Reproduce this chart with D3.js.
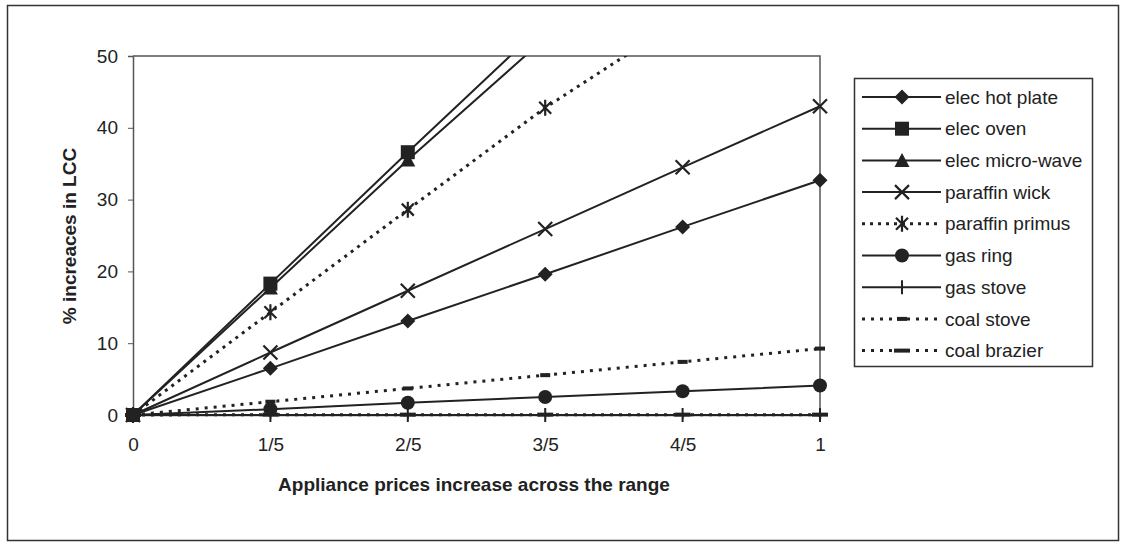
<!DOCTYPE html>
<html>
<head>
<meta charset="utf-8">
<script src="https://cdn.jsdelivr.net/npm/d3@7"></script>
<style>
  body { margin: 0; background: #fff; }
  text { font-family: "Liberation Sans", Arial, sans-serif; fill: #222; }
</style>
</head>
<body>
<div id="chart"></div>
<script>
// Categories on the x axis
const categories = ["0", "1/5", "2/5", "3/5", "4/5", "1"];
const yTicks = [0, 10, 20, 30, 40, 50];

// Series values (% increase in LCC)
const elecHotPlate = [0, 6.5, 13.1, 19.6, 26.2, 32.7];
const elecOven = [0, 18.3, 36.6, 54.6, 72.6, 90.6];
const elecMicroWave = [0, 17.7, 35.5, 52.5, 69.5, 86.5];
const paraffinWick = [0, 8.7, 17.3, 25.9, 34.5, 43.0];
const paraffinPrimus = [0, 14.3, 28.6, 42.8, 55.2, 67.6];
const gasRing = [0, 0.8, 1.7, 2.5, 3.3, 4.1];
const gasStove = [0, 0, 0, 0, 0, 0];
const coalStove = [0, 1.85, 3.7, 5.55, 7.4, 9.25];
const coalBrazier = [0, 0.05, 0.05, 0.05, 0.05, 0.05];

const series = [
  { name: "elec hot plate", values: elecHotPlate, marker: "diamond", dash: null },
  { name: "elec oven", values: elecOven, marker: "square", dash: null },
  { name: "elec micro-wave", values: elecMicroWave, marker: "triangle", dash: null },
  { name: "paraffin wick", values: paraffinWick, marker: "x", dash: null },
  { name: "paraffin primus", values: paraffinPrimus, marker: "asterisk", dash: "3,5" },
  { name: "gas ring", values: gasRing, marker: "circle", dash: null },
  { name: "gas stove", values: gasStove, marker: "plus", dash: null },
  { name: "coal stove", values: coalStove, marker: "shortdash", dash: "3,6" },
  { name: "coal brazier", values: coalBrazier, marker: "longdash", dash: "3,6" }
];

const W = 1125, H = 542;
const plot = { left: 133, right: 820, top: 56, bottom: 415 };
const ink = "#222";

const svg = d3.select("#chart").append("svg")
  .attr("width", W)
  .attr("height", H);

// outer frame
svg.append("rect")
  .attr("x", 7.5).attr("y", 5.5)
  .attr("width", 1111).attr("height", 535)
  .attr("fill", "none")
  .attr("stroke", "#333")
  .attr("stroke-width", 1.5);

const x = d3.scalePoint()
  .domain(categories)
  .range([plot.left, plot.right]);

const y = d3.scaleLinear()
  .domain([0, 50])
  .range([plot.bottom, plot.top]);

// plot area border (top and right)
svg.append("path")
  .attr("d", `M${plot.left},${plot.top}H${plot.right}V${plot.bottom}`)
  .attr("fill", "none")
  .attr("stroke", "#555")
  .attr("stroke-width", 1.5);

// y axis
const yAxis = svg.append("g")
  .attr("transform", `translate(${plot.left},0)`)
  .call(d3.axisLeft(y).tickValues(yTicks).tickSize(5).tickPadding(10));
yAxis.select(".domain").attr("stroke", "#555").attr("stroke-width", 1.5);
yAxis.selectAll(".tick line").attr("stroke", "#555");
yAxis.selectAll("text")
  .style("font-size", "19px")
  .attr("fill", ink);

// x axis
const xAxis = svg.append("g")
  .attr("transform", `translate(0,${plot.bottom})`)
  .call(d3.axisBottom(x).tickSize(4).tickPadding(19));
xAxis.select(".domain").attr("stroke", "#555").attr("stroke-width", 1.5);
xAxis.selectAll(".tick line").attr("stroke", "#555");
xAxis.selectAll("text")
  .style("font-size", "19px")
  .attr("fill", ink);

// axis titles
svg.append("text")
  .attr("x", 474)
  .attr("y", 491)
  .attr("text-anchor", "middle")
  .style("font-size", "19px")
  .style("font-weight", "bold")
  .text("Appliance prices increase across the range");

svg.append("text")
  .attr("transform", "translate(76,236) rotate(-90)")
  .attr("text-anchor", "middle")
  .style("font-size", "19px")
  .style("font-weight", "bold")
  .text("% increaces in LCC");

// clip to the plot area
svg.append("clipPath").attr("id", "plotClip")
  .append("rect")
  .attr("x", plot.left - 10).attr("y", plot.top)
  .attr("width", plot.right - plot.left + 20)
  .attr("height", plot.bottom - plot.top + 12);

// marker drawing
function drawMarker(g, type, cx, cy) {
  const m = g.append("g").attr("transform", `translate(${cx},${cy})`);
  if (type === "diamond") {
    m.append("path").attr("d", "M0,-7.5L7.5,0L0,7.5L-7.5,0Z").attr("fill", ink);
  } else if (type === "square") {
    m.append("rect").attr("x", -7).attr("y", -7).attr("width", 14).attr("height", 14).attr("fill", ink);
  } else if (type === "triangle") {
    m.append("path").attr("d", "M0,-7.5L7.5,6.5L-7.5,6.5Z").attr("fill", ink);
  } else if (type === "x") {
    m.append("path").attr("d", "M-7,-7L7,7M-7,7L7,-7").attr("stroke", ink).attr("stroke-width", 2.2);
  } else if (type === "asterisk") {
    m.append("path").attr("d", "M-6,-6L6,6M-6,6L6,-6M0,-8V8").attr("stroke", ink).attr("stroke-width", 2.2);
  } else if (type === "circle") {
    m.append("circle").attr("r", 7).attr("fill", ink);
  } else if (type === "plus") {
    m.append("path").attr("d", "M0,-7V7").attr("stroke", ink).attr("stroke-width", 2);
  } else if (type === "shortdash") {
    m.append("rect").attr("x", -5).attr("y", -2).attr("width", 10).attr("height", 4).attr("fill", ink);
  } else if (type === "longdash") {
    m.append("rect").attr("x", -8).attr("y", -2).attr("width", 16).attr("height", 4).attr("fill", ink);
  }
}

const line = d3.line()
  .x((d, i) => x(categories[i]))
  .y(d => y(d));

const lines = svg.append("g").attr("clip-path", "url(#plotClip)");

series.slice().reverse().forEach(s => {
  lines.append("path")
    .datum(s.values)
    .attr("d", line)
    .attr("fill", "none")
    .attr("stroke", ink)
    .attr("stroke-width", s.dash ? 3 : 2)
    .attr("stroke-dasharray", s.dash);
  s.values.forEach((v, i) => {
    if (v <= 50) drawMarker(lines, s.marker, x(categories[i]), y(v));
  });
});

// legend
const legend = svg.append("g");
legend.append("rect")
  .attr("x", 854.5).attr("y", 78.5)
  .attr("width", 238).attr("height", 288)
  .attr("fill", "#fff")
  .attr("stroke", "#333")
  .attr("stroke-width", 1.5);

series.forEach((s, i) => {
  const ly = 97 + i * 31.7;
  legend.append("line")
    .attr("x1", 862).attr("x2", 941)
    .attr("y1", ly).attr("y2", ly)
    .attr("stroke", ink)
    .attr("stroke-width", s.dash ? 3 : 2)
    .attr("stroke-dasharray", s.dash);
  drawMarker(legend, s.marker, 902, ly);
  legend.append("text")
    .attr("x", 945)
    .attr("y", ly)
    .attr("dy", "0.35em")
    .style("font-size", "19px")
    .text(s.name);
});
</script>
</body>
</html>
